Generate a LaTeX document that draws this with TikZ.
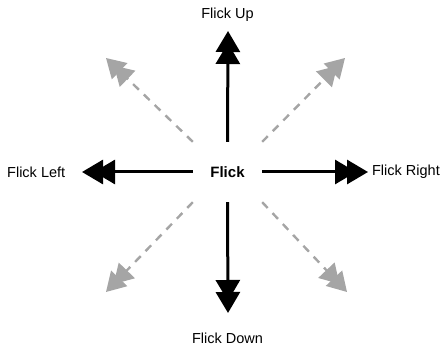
\documentclass[tikz,border=0pt]{standalone}
\usepackage{fontspec}
\setmainfont{Liberation Sans}
\usetikzlibrary{arrows.meta}
\definecolor{lightarrow}{RGB}{165,165,165}
\tikzset{
  lbl/.style={font=\fontsize{14.5}{17}\selectfont, inner sep=0pt},
  mainarrow/.style={line width=3pt, black,
    -{Triangle[length=21pt,width=24pt,sep=-9pt]Triangle[length=21pt,width=24pt]}},
  diagarrow/.style={line width=2.4pt, lightarrow, dash pattern=on 8pt off 7pt,
    -{Triangle[length=19pt,width=22pt,sep=-8pt]Triangle[length=19pt,width=22pt]}},
}
\begin{document}
\begin{tikzpicture}[x=1pt,y=-1pt]
\useasboundingbox (0,0) rectangle (441,352);
\node[minimum width=69pt, minimum height=60pt, inner sep=0pt,
      font=\fontsize{15}{18}\selectfont\bfseries] (c) at (227.5,172) {Flick};
\node[lbl] (up) at (227.5,15) {Flick Up};
\node[lbl] (down) at (227.5,338) {Flick Down};
\node[lbl, anchor=west] (left) at (7,172) {Flick Left};
\node[lbl, anchor=east] (right) at (440,172) {Flick Right};
\coordinate (tU) at (228,31);
\coordinate (tD) at (228,313);
\coordinate (tL) at (82,172);
\coordinate (tR) at (368,172);
\coordinate (tUL) at (106,58);
\coordinate (tUR) at (345,58);
\coordinate (tDL) at (106,292);
\coordinate (tDR) at (347,292);
\draw[diagarrow] (c.north west) -- (tUL);
\draw[diagarrow] (c.north east) -- (tUR);
\draw[diagarrow] (c.south west) -- (tDL);
\draw[diagarrow] (c.south east) -- (tDR);
\draw[mainarrow] (c.north) -- (tU);
\draw[mainarrow] (c.south) -- (tD);
\draw[mainarrow] (c.west) -- (tL);
\draw[mainarrow] (c.east) -- (tR);
\end{tikzpicture}
\end{document}
